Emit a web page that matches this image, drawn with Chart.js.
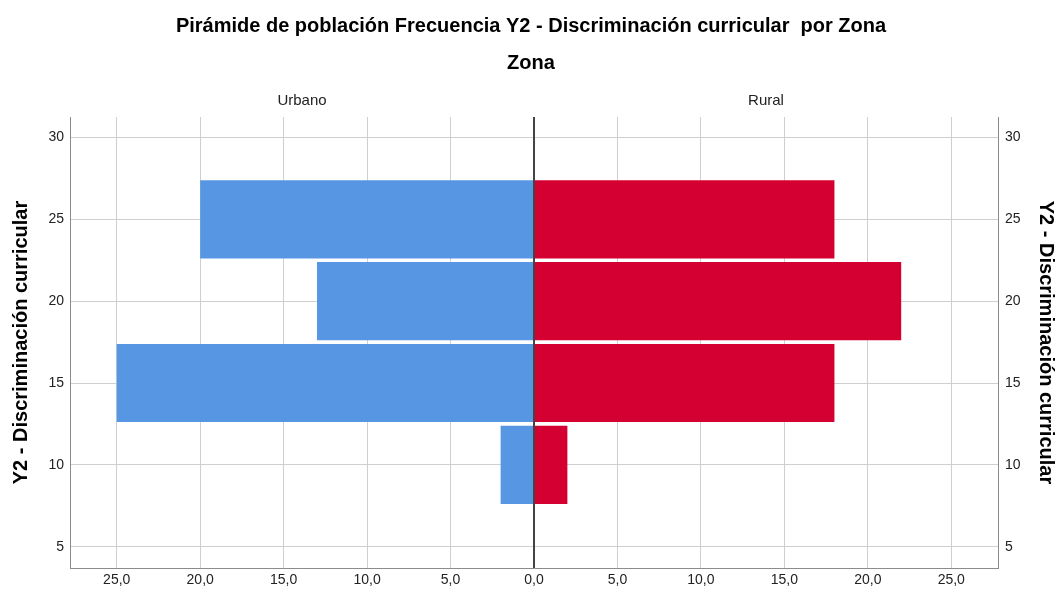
<!DOCTYPE html>
<html>
<head>
<meta charset="utf-8">
<title>Pirámide de población</title>
<script src="https://cdn.jsdelivr.net/npm/chart.js@4.4.1/dist/chart.umd.min.js"></script>
<style>
    html, body { margin: 0; padding: 0; background: #fff; }
</style>
</head>
<body>
<canvas id="pyramidChart" width="1062" height="592"></canvas>
<script>
// Bin centres (Y2 score) and frequencies per zone
const binCenters = [10, 15, 20, 25];
const urbanoCounts = [2, 25, 13, 20];
const ruralCounts = [2, 18, 22, 18];

// Axis ticks
const xTickValues = [-25, -20, -15, -10, -5, 0, 5, 10, 15, 20, 25];
const yTickValues = [5, 10, 15, 20, 25, 30];
const zoneLabels = ['Urbano', 'Rural'];

const FONT = 'Liberation Sans, Arial, sans-serif';
Chart.defaults.font.family = FONT;
Chart.defaults.color = '#222';

// Format frequency ticks as "25,0" (absolute value, comma decimal)
function formatFreq(value) {
    return Math.abs(value).toFixed(1).replace('.', ',');
}

function setTicks(values) {
    return function(scale) {
        scale.ticks = values.map(v => ({ value: v }));
    };
}

// Draws zone labels above the plot and the zero line over the bars
const pyramidExtras = {
    id: 'pyramidExtras',
    afterDatasetsDraw(chart) {
        const { ctx, chartArea, scales } = chart;
        const zeroX = scales.x.getPixelForValue(0);
        ctx.save();
        ctx.strokeStyle = '#444';
        ctx.lineWidth = 2;
        ctx.beginPath();
        ctx.moveTo(zeroX, chartArea.top);
        ctx.lineTo(zeroX, chartArea.bottom);
        ctx.stroke();
        ctx.restore();
    },
    afterDraw(chart) {
        const { ctx, chartArea, scales } = chart;
        const zeroX = scales.x.getPixelForValue(0);
        ctx.save();
        ctx.font = '15px ' + FONT;
        ctx.fillStyle = '#222';
        ctx.textAlign = 'center';
        ctx.textBaseline = 'middle';
        ctx.fillText(zoneLabels[0], (chartArea.left + zeroX) / 2, chartArea.top - 16);
        ctx.fillText(zoneLabels[1], (chartArea.right + zeroX) / 2, chartArea.top - 16);
        ctx.restore();
    }
};

const gridColor = '#cfcfcf';
const borderColor = '#8c8c8c';
const axisTitleFont = { family: FONT, size: 20, weight: 'bold' };
const tickFont = { size: 14 };

new Chart(document.getElementById('pyramidChart'), {
    type: 'bar',
    data: {
        datasets: [{
            label: zoneLabels[0],
            data: binCenters.map((b, i) => ({ x: -urbanoCounts[i], y: b })),
            backgroundColor: 'rgb(86, 150, 227)',
            borderWidth: 0,
            grouped: false,
            barPercentage: 0.955,
            categoryPercentage: 1
        }, {
            label: zoneLabels[1],
            data: binCenters.map((b, i) => ({ x: ruralCounts[i], y: b })),
            backgroundColor: 'rgb(213, 0, 50)',
            borderWidth: 0,
            grouped: false,
            barPercentage: 0.955,
            categoryPercentage: 1
        }]
    },
    options: {
        indexAxis: 'y',
        responsive: false,
        animation: false,
        layout: { padding: 0 },
        plugins: {
            legend: { display: false },
            tooltip: { enabled: false },
            title: {
                display: true,
                text: 'Pirámide de población Frecuencia Y2 - Discriminación curricular  por Zona',
                color: '#000',
                font: { family: FONT, size: 20, weight: 'bold' },
                padding: { top: 14, bottom: 0 }
            },
            subtitle: {
                display: true,
                text: 'Zona',
                color: '#000',
                font: { family: FONT, size: 20, weight: 'bold' },
                padding: { top: 13, bottom: 42 }
            }
        },
        scales: {
            x: {
                type: 'linear',
                position: 'bottom',
                min: -27.8,
                max: 27.8,
                afterBuildTicks: setTicks(xTickValues),
                afterFit(scale) { scale.height = 24; },
                ticks: {
                    padding: 4,
                    font: tickFont,
                    color: '#222',
                    callback: value => formatFreq(value)
                },
                grid: {
                    drawTicks: false,
                    color: gridColor
                },
                border: { display: true, color: borderColor }
            },
            y: {
                type: 'linear',
                position: 'left',
                min: 3.7,
                max: 31.25,
                offset: false,
                afterBuildTicks: setTicks(yTickValues),
                afterFit(scale) { scale.width = 70; },
                ticks: { padding: 6, font: tickFont, color: '#222' },
                grid: { offset: false, drawTicks: false, color: gridColor },
                border: { display: true, color: borderColor },
                title: {
                    display: true,
                    text: 'Y2 - Discriminación curricular',
                    color: '#000',
                    font: axisTitleFont,
                    padding: { top: 9, bottom: 0 }
                }
            },
            y2: {
                type: 'linear',
                position: 'right',
                min: 3.7,
                max: 31.25,
                offset: false,
                afterBuildTicks: setTicks(yTickValues),
                afterFit(scale) { scale.width = 64; },
                ticks: { padding: 7, font: tickFont, color: '#222' },
                grid: { display: false, offset: false, drawTicks: false },
                border: { display: true, color: borderColor },
                title: {
                    display: true,
                    text: 'Y2 - Discriminación curricular',
                    color: '#000',
                    font: axisTitleFont,
                    padding: { top: 4, bottom: 0 }
                }
            }
        }
    },
    plugins: [pyramidExtras]
});
</script>
</body>
</html>
